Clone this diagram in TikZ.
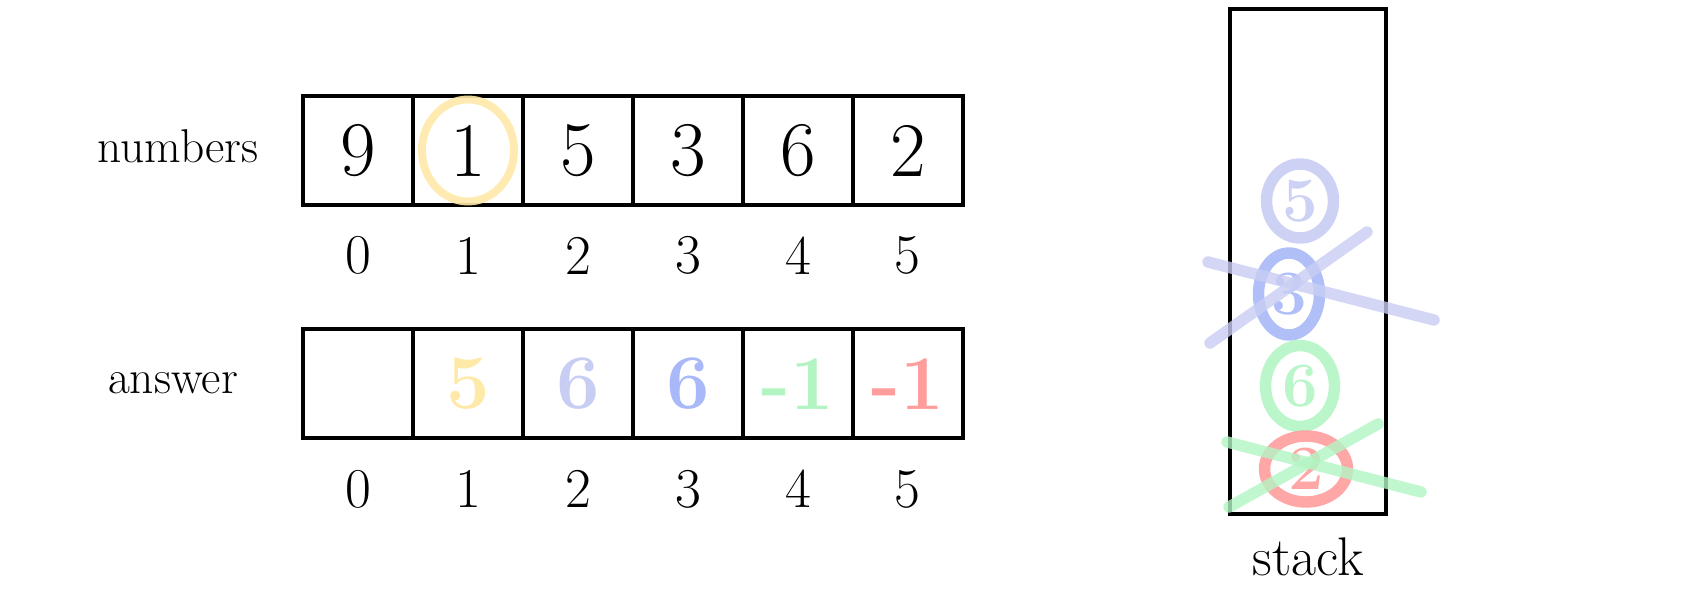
\documentclass[tikz,border=0pt]{standalone}
\usepackage{tikz}
\usetikzlibrary{shapes}
\definecolor{hlyellow}{HTML}{FFE9A8}
\definecolor{hllavender}{HTML}{C8CDF3}
\definecolor{hlblue}{HTML}{A8B8F8}
\definecolor{hlgreen}{HTML}{B2F5C3}
\definecolor{hlred}{HTML}{FF9D9D}
\tikzset{
		cell/.style={draw,line width=2.3pt,minimum width=2.2cm,minimum height=2.18cm,inner sep=0pt,outer sep=0pt,font=\fontsize{44}{48}\selectfont},
		idx/.style={font=\fontsize{32}{36}\selectfont},
		name text/.style={font=\fontsize{27}{32}\selectfont},
		pushed/.style={draw=#1,text=#1,ellipse,line width=6.5pt,inner sep=0pt,opacity=0.9,font=\fontsize{36}{40}\selectfont\bfseries},
		crossed/.style={draw=#1,line width=6.5pt,line cap=round,opacity=0.8}
	}

\begin{document}
\begin{tikzpicture}[x=0.02cm,y=-0.02cm,node distance=2.2cm]
					\useasboundingbox (0,0) rectangle (1691,591);

					\node[name text] (numbers) at (178,146) {numbers};
					\node[name text] (answer)  at (173,383) {answer};

					\node[cell] (n0) at (358,150.5)  {9};
					\node[cell] (n1) [right of = n0] {1};
					\node[cell] (n2) [right of = n1] {5};
					\node[cell] (n3) [right of = n2] {3};
					\node[cell] (n4) [right of = n3] {6};
					\node[cell] (n5) [right of = n4] {2};

					\draw[hlyellow,line width=4.5pt,opacity=0.9] (n1.center) ellipse (46 and 51);

					\node[idx] (i0) [below of = n0, node distance=2.1cm] {0};
					\node[idx] (i1) [below of = n1, node distance=2.1cm] {1};
					\node[idx] (i2) [below of = n2, node distance=2.1cm] {2};
					\node[idx] (i3) [below of = n3, node distance=2.1cm] {3};
					\node[idx] (i4) [below of = n4, node distance=2.1cm] {4};
					\node[idx] (i5) [below of = n5, node distance=2.1cm] {5};

					\node[cell]                 (a0) [below of = n0, node distance=4.67cm] {};
					\node[cell,text=hlyellow]   (a1) [right of = a0] {\bfseries 5};
					\node[cell,text=hllavender] (a2) [right of = a1] {\bfseries 6};
					\node[cell,text=hlblue]     (a3) [right of = a2] {\bfseries 6};
					\node[cell,text=hlgreen]    (a4) [right of = a3] {\bfseries -1};
					\node[cell,text=hlred]      (a5) [right of = a4] {\bfseries -1};

					\node[idx] (j0) [below of = a0, node distance=2.1cm] {0};
					\node[idx] (j1) [below of = a1, node distance=2.1cm] {1};
					\node[idx] (j2) [below of = a2, node distance=2.1cm] {2};
					\node[idx] (j3) [below of = a3, node distance=2.1cm] {3};
					\node[idx] (j4) [below of = a4, node distance=2.1cm] {4};
					\node[idx] (j5) [below of = a5, node distance=2.1cm] {5};

					\node[draw,line width=2.3pt,minimum width=3.12cm,minimum height=10.1cm] (stack) at (1308,261.5) {};
					\node[name text,font=\fontsize{31}{36}\selectfont] (stacklabel) [below of = stack, node distance=5.9cm] {stack};

					\node[pushed=hllavender,minimum width=1.34cm,minimum height=1.48cm] (s5) at (1300,201) {5};
					\node[pushed=hlblue,minimum width=1.22cm,minimum height=1.64cm]     (s3) at (1289,294) {3};
					\node[pushed=hlgreen,minimum width=1.38cm,minimum height=1.62cm]    (s6) at (1300,386) {6};
					\node[pushed=hlred,minimum width=1.66cm,minimum height=1.32cm]      (s2) at (1306,469) {2};

					\draw[crossed=hllavender] (1208,262) -- (1434,320);
					\draw[crossed=hllavender] (1210,343) -- (1367,232);
					\draw[crossed=hlgreen]    (1227,442) -- (1421,492);
					\draw[crossed=hlgreen]    (1229,507) -- (1378,424);
				\end{tikzpicture}
\end{document}
